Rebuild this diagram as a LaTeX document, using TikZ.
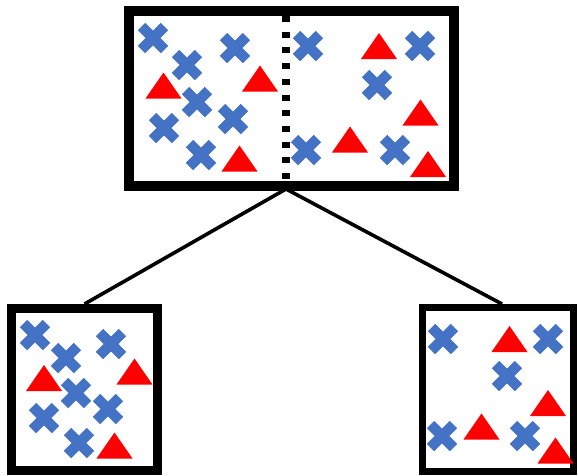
\documentclass[tikz,border=0pt]{standalone}
\definecolor{xblue}{HTML}{4472C4}
\definecolor{tred}{HTML}{FF0000}
\tikzset{
  box/.style={draw=black, rectangle, inner sep=0pt, fill=white},
  conn/.style={draw=black, line width=3.6pt},
  divider/.style={draw=black, line width=7.5pt, dash pattern=on 6pt off 9.7pt},
  xmark/.pic={\draw[xblue, line width=10.5pt] (-11.5,-11.5)--(11.5,11.5) (-11.5,11.5)--(11.5,-11.5);},
  tmark/.pic={\fill[tred] (-18,13)--(18,13)--(0,-13)--cycle;},
}
\begin{document}
\begin{tikzpicture}[x=1pt,y=-1pt]
\useasboundingbox (0,0) rectangle (578,475);
% boxes
\node[box, line width=10pt, minimum width=325pt, minimum height=175pt] (top) at (291.5,98.5) {};
\node[box, line width=9pt, minimum width=146pt, minimum height=162pt] (left) at (84.5,389.5) {};
\node[box, line width=7pt, minimum width=151pt, minimum height=164pt] (right) at (498,389.5) {};
% divider and connectors
\coordinate (dtop) at (286,16);
\coordinate (split) at (286,189);
\draw[divider] (dtop) -- (split);
\draw[conn] (split) -- (left.north);
\draw[conn] (split) -- ([xshift=4pt]right.north);
% top box, left half
\pic at (153,38) {xmark};
\pic at (187,65) {xmark};
\pic at (235,48) {xmark};
\pic at (197,102) {xmark};
\pic at (164,128) {xmark};
\pic at (233,119) {xmark};
\pic at (201,155) {xmark};
\pic at (163.5,85.5) {tmark};
\pic at (260,78.5) {tmark};
\pic at (239.5,158.5) {tmark};
% top box, right half
\pic at (308,46) {xmark};
\pic at (420,46) {xmark};
\pic at (377,85) {xmark};
\pic at (306,150) {xmark};
\pic at (395,150) {xmark};
\pic at (379,46) {tmark};
\pic at (420.5,112.5) {tmark};
\pic at (350,139.5) {tmark};
\pic at (428,164) {tmark};
% left box
\pic at (35,335) {xmark};
\pic at (66,358) {xmark};
\pic at (111,344) {xmark};
\pic at (76,393) {xmark};
\pic at (44,418) {xmark};
\pic at (108,409) {xmark};
\pic at (79,443) {xmark};
\pic at (44,378) {tmark};
\pic at (134.5,371.5) {tmark};
\pic at (114.5,445.5) {tmark};
% right box
\pic at (443,339) {xmark};
\pic at (548,339) {xmark};
\pic at (507,376) {xmark};
\pic at (442,436) {xmark};
\pic at (525,436) {xmark};
\pic at (509.5,339) {tmark};
\pic at (548,403) {tmark};
\pic at (481.5,426.5) {tmark};
\pic at (555.5,450.5) {tmark};
\end{tikzpicture}
\end{document}
